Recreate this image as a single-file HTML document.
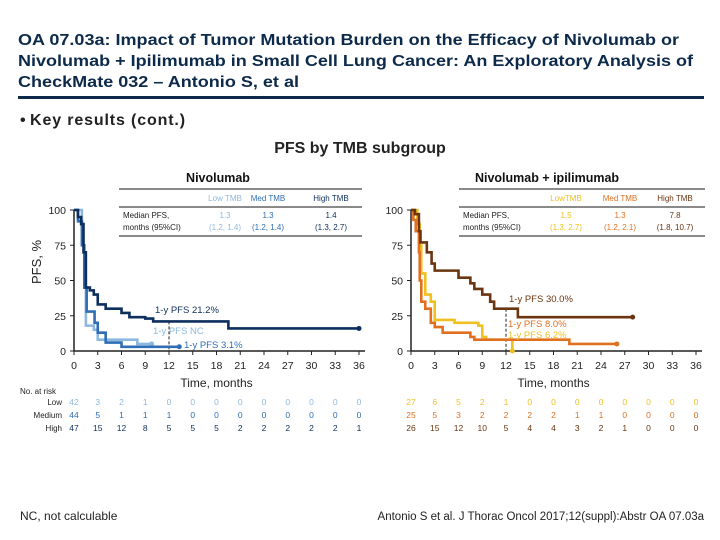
<!DOCTYPE html>
<html><head><meta charset="utf-8"><style>
html,body{margin:0;padding:0;background:#fff;}
svg{display:block;font-family:"Liberation Sans",Arial,sans-serif;}
</style></head><body>
<svg id="s" width="720" height="540" viewBox="0 0 720 540" xmlns="http://www.w3.org/2000/svg">
<g fill="#0d2a4a" font-weight="bold" font-size="16">
<text x="18" y="45" textLength="661" lengthAdjust="spacingAndGlyphs">OA 07.03a: Impact of Tumor Mutation Burden on the Efficacy of Nivolumab or</text>
<text x="18" y="66" textLength="675" lengthAdjust="spacingAndGlyphs">Nivolumab + Ipilimumab in Small Cell Lung Cancer: An Exploratory Analysis of</text>
<text x="18" y="87" textLength="281" lengthAdjust="spacingAndGlyphs">CheckMate 032 – Antonio S, et al</text>
</g>
<rect x="18" y="96" width="686" height="3" fill="#0d2a4a"/>
<text x="20" y="125" font-size="16" font-weight="bold" fill="#222">•  <tspan textLength="155">Key results (cont.)</tspan></text>
<text x="360" y="153" font-size="16" font-weight="bold" fill="#222" text-anchor="middle">PFS by TMB subgroup</text>
<text x="51" y="272" font-size="13" fill="#222" text-anchor="middle" transform="rotate(-90 41 272)">PFS, %</text>
<text x="20" y="520" font-size="12" fill="#222">NC, not calculable</text>
<text x="704" y="520" font-size="11.5" fill="#222" text-anchor="end">Antonio S et al. J Thorac Oncol 2017;12(suppl):Abstr OA 07.03a</text>
<g id="plots"></g>
</svg>
<script>
// ---- data ----
const xTicks = [0,3,6,9,12,15,18,21,24,27,30,33,36];
const yTicks = [0,25,50,75,100];
// Nivolumab curves [month, pfs%]
const nivoHighT = [0,0.5,0.9,1.2,1.5,2,2.5,3,4,6,7,9,10,19.5,19.5,36];
const nivoHighV = [100,95,90,70,45,43,40,33,30,27,24,23,21,21,16,16];
const nivoMedT = [0,0.5,1,1.3,1.6,2.6,3,4,6,13.3];
const nivoMedV = [100,92,75,45,28,20,13,6,3,3];
const nivoLowT = [0,1,1.3,1.5,2.5,3,8,9.8];
const nivoLowV = [100,75,45,18,15,8,5,5];
// Nivolumab + ipilimumab curves
const comboHighT = [0,0.5,1,1.2,2,2.6,3,5.5,6,7.5,8,9,10,10.5,13.5,28];
const comboHighV = [100,97,85,77,70,62,57,57,52,48,44,40,35,30,24,24];
const comboMedT = [0,0.3,0.6,1,1.1,1.3,1.8,2.5,3,4,7.5,8,20,26];
const comboMedV = [100,93,85,70,50,35,30,20,17,13,10,8,5,5];
const comboLowT = [0,0.8,1.1,1.3,1.8,2.5,3,5,5.5,8.5,9,9.5,12.8,12.8];
const comboLowV = [100,90,75,55,40,35,22,22,20,18,10,8,8,0];
// at-risk tables
const nivoRiskLow = [42,3,2,1,0,0,0,0,0,0,0,0,0];
const nivoRiskMed = [44,5,1,1,1,0,0,0,0,0,0,0,0];
const nivoRiskHigh = [47,15,12,8,5,5,5,2,2,2,2,2,1];
const comboRiskLow = [27,6,5,2,1,0,0,0,0,0,0,0,0];
const comboRiskMed = [25,5,3,2,2,2,2,1,1,0,0,0,0];
const comboRiskHigh = [26,15,12,10,5,4,4,3,2,1,0,0,0];

const NS="http://www.w3.org/2000/svg";
const root=document.getElementById('plots');
function el(tag,attrs,parent,txt){const e=document.createElementNS(NS,tag);for(const k in attrs)e.setAttribute(k,attrs[k]);if(txt!==undefined)e.textContent=txt;(parent||root).appendChild(e);return e;}

function panel(name,x0,x1,title,labels,medians,curves,riskRows,riskColors,notes){
  const y0=351,y1=210;
  const sx=v=>x0+(x1-x0)*v/36, sy=v=>y0+(y1-y0)*v/100;
  const g=el('g',{});
  
  
  // axes
  const ax=el('path',{d:`M${x0} ${y1} V${y0} H${x1+6}`,stroke:'#222','stroke-width':1.5,fill:'none'},g);
  
  xTicks.forEach(t=>{el('line',{x1:sx(t),x2:sx(t),y1:y0,y2:y0+4,stroke:'#222'},g);
    const tx=el('text',{x:sx(t),y:y0+18,'font-size':10.5,'text-anchor':'middle',fill:'#222'},g,t);
    });
  yTicks.forEach(t=>{el('line',{x1:x0-4,x2:x0,y1:sy(t),y2:sy(t),stroke:'#222'},g);
    const ty=el('text',{x:x0-8,y:sy(t)+4,'font-size':10.5,'text-anchor':'end',fill:'#222'},g,t);
    });
  const xt=el('text',{x:(x0+x1)/2,y:387,'font-size':12,'text-anchor':'middle',fill:'#222'},g,'Time, months');
  
  // title + table
  const tx0=title.tx0, tx1=title.tx1;
  const tt=el('text',{x:title.cx,y:182,'font-size':12.5,'font-weight':'bold','text-anchor':'middle',fill:'#111'},g,title.text);
  
  el('line',{x1:tx0,x2:tx1,y1:189,y2:189,stroke:'#444','stroke-width':1.2},g);
  el('line',{x1:tx0,x2:tx1,y1:207,y2:207,stroke:'#444','stroke-width':1.2},g);
  el('line',{x1:tx0,x2:tx1,y1:236,y2:236,stroke:'#444','stroke-width':1.2},g);
  const t1=el('text',{x:tx0+4,y:218,'font-size':8,fill:'#222'},g,'Median PFS,');
  
  el('text',{x:tx0+4,y:230,'font-size':8,fill:'#222'},g,'months (95%CI)');
  labels.forEach((l,i)=>{const cx=title.cols[i];
    const h=el('text',{x:cx,y:201,'font-size':8,'text-anchor':'middle',fill:curves[i].c},g,l);
    
    el('text',{x:cx,y:218,'font-size':8,'text-anchor':'middle',fill:curves[i].c},g,medians[i][0]);
    el('text',{x:cx,y:230,'font-size':8,'text-anchor':'middle',fill:curves[i].c},g,medians[i][1]);});
  // dashed 12mo
  el('line',{x1:sx(12),x2:sx(12),y1:sy(notes.dashTop),y2:y0,stroke:'#222','stroke-dasharray':'3,2'},g);
  // curves
  curves.forEach(c=>{
    let d=`M${sx(c.t[0])} ${sy(c.v[0])}`;
    for(let i=1;i<c.t.length;i++){d+=` H${sx(c.t[i])} V${sy(c.v[i])}`;}
    const p=el('path',{d:d,fill:'none',stroke:c.c,'stroke-width':2.6},g);
    
    const n=c.t.length-1;
    el('circle',{cx:sx(c.t[n]),cy:sy(c.v[n]),r:2.5,fill:c.c},g);
  });
  notes.items.forEach(it=>{const a=el('text',{x:it.x,y:it.y,'font-size':9.5,fill:it.c},g,it.text);
    });
  // risk table
  const rowY=[405,418,431];
  riskRows.forEach((r,ri)=>r.forEach((v,i)=>{
    const c=el('text',{x:sx(xTicks[i]),y:rowY[ri],'font-size':8.5,'text-anchor':'middle',fill:riskColors[ri]},g,v);
    }));
}

const nb=['#8db8e0','#2f6eb5','#0d2f5e'];
const cb=['#f0c020','#e07020','#6b3510'];
panel('nivolumab',74,359,{text:'Nivolumab',cx:218,tx0:119,tx1:362,cols:[225,268,331]},
 ['Low TMB','Med TMB','High TMB'],[['1.3','(1.2, 1.4)'],['1.3','(1.2, 1.4)'],['1.4','(1.3, 2.7)']],
 [{t:nivoLowT,v:nivoLowV,c:nb[0],name:'nivo-low-tmb-curve'},{t:nivoMedT,v:nivoMedV,c:nb[1],name:'nivo-med-tmb-curve'},{t:nivoHighT,v:nivoHighV,c:nb[2],name:'nivo-high-tmb-curve'}],
 [nivoRiskLow,nivoRiskMed,nivoRiskHigh],nb,
 {dashTop:21,items:[{x:155,y:313,text:'1-y PFS 21.2%',c:'#0d2f5e'},{x:153,y:334,text:'1-y PFS NC',c:'#8db8e0'},{x:184,y:348,text:'1-y PFS 3.1%',c:'#2f6eb5'}]});
panel('nivo-ipi',411,696,{text:'Nivolumab + ipilimumab',cx:547,tx0:459,tx1:705,cols:[566,620,675]},
 ['LowTMB','Med TMB','High TMB'],[['1.5','(1.3, 2.7)'],['1.3','(1.2, 2.1)'],['7.8','(1.8, 10.7)']],
 [{t:comboLowT,v:comboLowV,c:cb[0],name:'combo-low-tmb-curve'},{t:comboMedT,v:comboMedV,c:cb[1],name:'combo-med-tmb-curve'},{t:comboHighT,v:comboHighV,c:cb[2],name:'combo-high-tmb-curve'}],
 [comboRiskLow,comboRiskMed,comboRiskHigh],cb,
 {dashTop:30,items:[{x:509,y:302,text:'1-y PFS 30.0%',c:'#6b3510'},{x:508,y:327,text:'1-y PFS 8.0%',c:'#e07020'},{x:508,y:338,text:'1-y PFS 6.2%',c:'#f0c020'}]});

// at-risk row labels
const rl=[['No. at risk',394,'start',20],['Low',405,'end',62],['Medium',418,'end',62],['High',431,'end',62]];
rl.forEach(r=>{const t=el('text',{x:r[3],y:r[1],'font-size':8,'text-anchor':r[2],fill:'#222'},root,r[0]);
 
 });
</script>
</body></html>
